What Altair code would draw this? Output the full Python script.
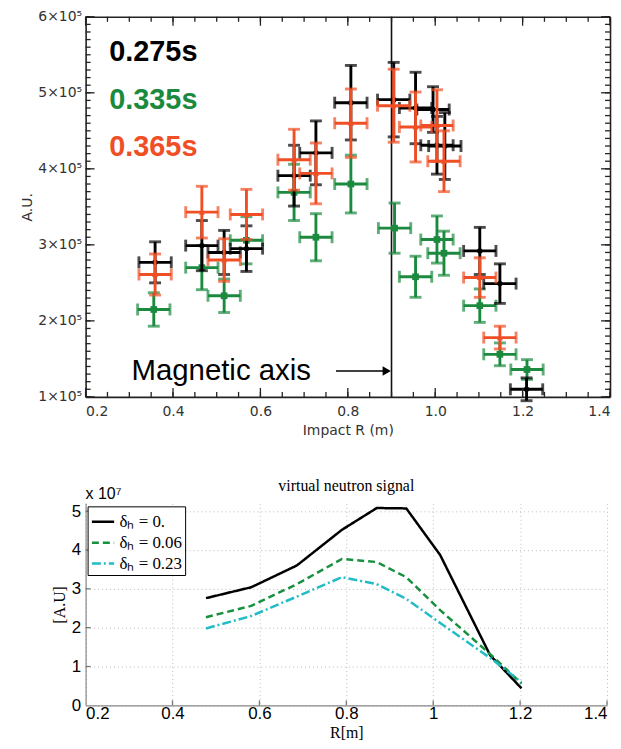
import altair as alt
import pandas as pd

SANS = "DejaVu Sans"
SANS2 = "Liberation Sans"
SERIF = "Liberation Serif"

# ================= top panel: measured profiles (A.U. in units of 1e5) =================
series_names = ["0.275s", "0.335s", "0.365s"]
series_colors = ["#000000", "#1b8a3e", "#f04e25"]
series_shapes = ["circle", "square", "triangle-up"]

r_275 = [0.359, 0.466, 0.517, 0.568, 0.677, 0.727, 0.807, 0.905, 0.955, 0.995, 1.004, 1.022, 1.102, 1.148, 1.209]
v_275 = [2.77, 2.99, 2.90, 2.95, 3.91, 4.21, 4.87, 4.91, 4.80, 4.78, 4.31, 4.30, 2.92, 2.49, 1.10]
e_275 = [0.27, 0.33, 0.29, 0.30, 0.40, 0.42, 0.49, 0.49, 0.47, 0.30, 0.38, 0.44, 0.31, 0.26, 0.15]

r_335 = [0.356, 0.466, 0.517, 0.568, 0.677, 0.727, 0.807, 0.907, 0.955, 1.004, 1.020, 1.102, 1.148, 1.210]
v_335 = [2.15, 2.70, 2.33, 3.06, 3.69, 3.10, 3.80, 3.22, 2.58, 3.07, 2.89, 2.20, 1.56, 1.36]
e_335 = [0.22, 0.29, 0.22, 0.31, 0.37, 0.31, 0.38, 0.33, 0.27, 0.31, 0.29, 0.22, 0.15, 0.13]

r_365 = [0.359, 0.466, 0.517, 0.568, 0.677, 0.727, 0.807, 0.905, 0.955, 1.004, 1.020, 1.102, 1.148]
v_365 = [2.61, 3.43, 2.80, 3.40, 4.12, 3.94, 4.60, 4.83, 4.55, 4.57, 4.10, 2.57, 1.78]
e_365 = [0.27, 0.34, 0.28, 0.33, 0.40, 0.40, 0.45, 0.48, 0.46, 0.47, 0.40, 0.26, 0.15]

r_err = 0.037  # horizontal error (m)

label_x = [0.254, 0.254, 0.254]
label_y = [5.54, 4.91, 4.29]

mag_axis_R = 0.9
mag_text = "Magnetic axis"
mag_text_x = 0.305
mag_text_y = 1.34
arrow_from = 0.773
arrow_to = 0.889

x_dom_t = [0.2, 1.4]
y_dom_t = [1, 6]
x_major_t = [0.2, 0.4, 0.6, 0.8, 1.0, 1.2, 1.4]
x_minor_t = [round(0.2 + 0.05 * i, 2) for i in range(25)]
y_major_t = [1, 2, 3, 4, 5, 6]
y_minor_t = [round(1 + 0.1 * i, 1) for i in range(51)]

# ================= bottom panel: simulated signal (x 1e7) =================
r_sim = [0.477, 0.581, 0.686, 0.790, 0.870, 0.938, 1.016, 1.131, 1.203]
sig_a = [2.76, 3.04, 3.60, 4.52, 5.08, 5.07, 3.87, 1.29, 0.44]
sig_b = [2.27, 2.56, 3.12, 3.77, 3.69, 3.30, 2.45, 1.32, 0.56]
sig_c = [1.98, 2.30, 2.80, 3.30, 3.12, 2.74, 2.12, 1.22, 0.60]
case_labels = ["δₕ = 0.", "δₕ = 0.06", "δₕ = 0.23"]
case_colors = ["#000000", "#17913f", "#22bcc6"]
case_dashes = [[1, 0], [7, 4], [9, 3, 2, 3]]

x_dom_b = [0.2, 1.4]
y_dom_b = [0, 5.2]
x_major_b = [0.2, 0.4, 0.6, 0.8, 1.0, 1.2, 1.4]
y_major_b = [0, 1, 2, 3, 4, 5]
bottom_title = "virtual neutron signal"
exponent_text = "x 10⁷"

TOP_W, TOP_H = 527, 382
BOT_W, BOT_H = 524, 203

xs_t = alt.Scale(domain=x_dom_t, nice=False, zero=False)
ys_t = alt.Scale(domain=y_dom_t, nice=False, zero=False)
xs_b = alt.Scale(domain=x_dom_b, nice=False, zero=False)
ys_b = alt.Scale(domain=y_dom_b, nice=False, zero=False)


def tick_layer(values, edge_value, along, inward, xscale, yscale, size, color, width):
    """Inward tick marks: ticks on a plot edge, shifted by half their length into the plot."""
    half = size / 2.0
    if along == "x":
        df = pd.DataFrame({"R": values, "v": [float(edge_value)] * len(values)})
        return alt.Chart(df).mark_tick(orient="vertical", size=size, thickness=width, color=color,
                                       opacity=1, yOffset=-inward * half).encode(
            x=alt.X("R:Q", scale=xscale, axis=None), y=alt.Y("v:Q", scale=yscale, axis=None))
    df = pd.DataFrame({"v": values, "R": [float(edge_value)] * len(values)})
    return alt.Chart(df).mark_tick(orient="horizontal", size=size, thickness=width, color=color,
                                   opacity=1, xOffset=inward * half).encode(
        x=alt.X("R:Q", scale=xscale, axis=None), y=alt.Y("v:Q", scale=yscale, axis=None))


def axis_layer(df, xf, yf, xscale, yscale, xaxis, yaxis):
    return alt.Chart(df).mark_point(opacity=0).encode(
        x=alt.X(f"{xf}:Q", scale=xscale, axis=xaxis),
        y=alt.Y(f"{yf}:Q", scale=yscale, axis=yaxis),
    )


def err_series(r, v, e, color, shape, size):
    df = pd.DataFrame({"R": r, "v": v, "e": e})
    df["xlo"] = df["R"] - r_err
    df["xhi"] = df["R"] + r_err
    df["ylo"] = df["v"] - df["e"]
    df["yhi"] = df["v"] + df["e"]
    base = alt.Chart(df)

    def X(f):
        return alt.X(f"{f}:Q", scale=xs_t, axis=None)

    def Y(f):
        return alt.Y(f"{f}:Q", scale=ys_t, axis=None)

    lw = 2.9
    cap = 12
    return [
        base.mark_rule(color=color, strokeWidth=lw).encode(x=X("xlo"), x2="xhi:Q", y=Y("v")),
        base.mark_rule(color=color, strokeWidth=lw).encode(x=X("R"), y=Y("ylo"), y2="yhi:Q"),
        base.mark_tick(color=color, orient="vertical", size=cap, thickness=lw).encode(x=X("xlo"), y=Y("v")),
        base.mark_tick(color=color, orient="vertical", size=cap, thickness=lw).encode(x=X("xhi"), y=Y("v")),
        base.mark_tick(color=color, orient="horizontal", size=cap, thickness=lw).encode(x=X("R"), y=Y("ylo")),
        base.mark_tick(color=color, orient="horizontal", size=cap, thickness=lw).encode(x=X("R"), y=Y("yhi")),
        base.mark_point(color=color, fill=color, filled=True, opacity=1, shape=shape, size=size).encode(x=X("R"), y=Y("v")),
    ]


df_any_t = pd.DataFrame({"R": r_275, "v": v_275})

lab_common = dict(labelFont=SANS, labelFontSize=14, labelColor="#333",
                  titleFont=SANS, titleFontSize=14, titleFontWeight="normal", titleColor="#333")

axA = axis_layer(
    df_any_t, "R", "v", xs_t, ys_t,
    alt.Axis(orient="bottom", values=x_major_t, format=".1f", title="Impact R (m)",
             ticks=False, domain=True, domainColor="#222", domainWidth=1.6, grid=False,
             labelPadding=8, titlePadding=5, **lab_common),
    alt.Axis(orient="left", values=y_major_t, labelExpr="format(datum.value, 'd') + '×10⁵'",
             title="A.U.", ticks=False, domain=True, domainColor="#222", domainWidth=1.6, grid=False,
             labelPadding=4, titlePadding=3, **lab_common),
)
# frame lines on top & right edges
axC = axis_layer(
    df_any_t, "R", "v", xs_t, ys_t,
    alt.Axis(orient="bottom", offset=-TOP_H, labels=False, ticks=False, grid=False, title=None,
             domain=True, domainColor="#222", domainWidth=1.6),
    alt.Axis(orient="left", offset=-TOP_W, labels=False, ticks=False, grid=False, title=None,
             domain=True, domainColor="#222", domainWidth=1.6),
)

TK = "#222222"
ticks_top_panel = [
    tick_layer(x_minor_t, y_dom_t[0], "x", +1, xs_t, ys_t, 5, TK, 1.3),
    tick_layer(x_major_t, y_dom_t[0], "x", +1, xs_t, ys_t, 9, TK, 1.3),
    tick_layer(x_minor_t, y_dom_t[1], "x", -1, xs_t, ys_t, 5, TK, 1.3),
    tick_layer(x_major_t, y_dom_t[1], "x", -1, xs_t, ys_t, 9, TK, 1.3),
    tick_layer(y_minor_t, x_dom_t[0], "y", +1, xs_t, ys_t, 5, TK, 1.3),
    tick_layer(y_major_t, x_dom_t[0], "y", +1, xs_t, ys_t, 9, TK, 1.3),
    tick_layer(y_minor_t, x_dom_t[1], "y", -1, xs_t, ys_t, 5, TK, 1.3),
    tick_layer(y_major_t, x_dom_t[1], "y", -1, xs_t, ys_t, 9, TK, 1.3),
]

vline = alt.Chart(pd.DataFrame({"R": [mag_axis_R]})).mark_rule(color="#111", strokeWidth=1.6).encode(
    x=alt.X("R:Q", scale=xs_t, axis=None))

lab_df = pd.DataFrame({"label": series_names, "x": label_x, "y": label_y, "c": series_colors})
labels = alt.Chart(lab_df).mark_text(align="left", baseline="middle", font=SANS2, fontSize=29,
                                     fontWeight="bold").encode(
    x=alt.X("x:Q", scale=xs_t, axis=None), y=alt.Y("y:Q", scale=ys_t, axis=None),
    text="label:N", color=alt.Color("c:N", scale=None, legend=None))

ann_df = pd.DataFrame({"x": [mag_text_x], "y": [mag_text_y], "t": [mag_text],
                       "x0": [arrow_from], "x1": [arrow_to]})
ann_text = alt.Chart(ann_df).mark_text(align="left", baseline="middle", font=SANS2, fontSize=29.5,
                                       color="#000").encode(
    x=alt.X("x:Q", scale=xs_t, axis=None), y=alt.Y("y:Q", scale=ys_t, axis=None), text="t:N")
ann_line = alt.Chart(ann_df).mark_rule(color="#000", strokeWidth=1.6).encode(
    x=alt.X("x0:Q", scale=xs_t, axis=None), x2="x1:Q", y=alt.Y("y:Q", scale=ys_t, axis=None))
ann_head = alt.Chart(ann_df).mark_point(shape="triangle-right", filled=True, color="#000", fill="#000",
                                        opacity=1, size=90).encode(
    x=alt.X("x1:Q", scale=xs_t, axis=None), y=alt.Y("y:Q", scale=ys_t, axis=None))

series_layers = []
for (r, v, e), col, shp, sz in [
    ((r_335, v_335, e_335), series_colors[1], series_shapes[1], 45),
    ((r_275, v_275, e_275), series_colors[0], series_shapes[0], 30),
    ((r_365, v_365, e_365), series_colors[2], series_shapes[2], 35),
]:
    series_layers += err_series(r, v, e, col, shp, sz)

top = alt.layer(
    axA, axC, vline, *series_layers, labels, ann_text, ann_line, ann_head, *ticks_top_panel
).resolve_axis(x="independent", y="independent").properties(width=TOP_W, height=TOP_H)

# ================= bottom chart =================
rows = []
for lab, vals in zip(case_labels, [sig_a, sig_b, sig_c]):
    for r, s in zip(r_sim, vals):
        rows.append({"R": r, "s": s, "case": lab})
df_b = pd.DataFrame(rows)

leg = alt.Legend(orient="none", legendX=2, legendY=3, title=None, fillColor="white",
                 strokeColor="#000", padding=3, labelFont=SERIF, labelFontSize=17,
                 labelColor="#000", symbolType="stroke", symbolSize=500, symbolStrokeWidth=2.5,
                 rowPadding=-3, labelOffset=4)

lines = alt.Chart(df_b).mark_line(strokeWidth=2.5).encode(
    x=alt.X("R:Q", scale=xs_b, axis=None),
    y=alt.Y("s:Q", scale=ys_b, axis=None),
    color=alt.Color("case:N", scale=alt.Scale(domain=case_labels, range=case_colors), legend=leg),
    strokeDash=alt.StrokeDash("case:N", scale=alt.Scale(domain=case_labels, range=case_dashes), legend=leg),
)

df_any_b = pd.DataFrame({"R": r_sim, "s": sig_a})
b_common = dict(labelFont=SANS2, labelFontSize=17, labelColor="#000",
                titleFont=SERIF, titleFontSize=16, titleFontWeight="normal", titleColor="#000",
                ticks=False, domain=True, domainColor="#888", domainWidth=1.2,
                grid=True, gridColor="#bbbbbb", gridDash=[1, 3], gridWidth=1)
bA = axis_layer(
    df_any_b, "R", "s", xs_b, ys_b,
    alt.Axis(orient="bottom", values=x_major_b, format="~g", title="R[m]", labelPadding=0,
             titlePadding=3, **b_common),
    alt.Axis(orient="left", values=y_major_b, format="d", title="[A.U]", labelPadding=5,
             titlePadding=4, **b_common),
)
ticks_bottom_panel = [
    tick_layer(x_major_b[1:], y_dom_b[0], "x", +1, xs_b, ys_b, 5, "#777777", 1.3),
    tick_layer(y_major_b[1:], x_dom_b[0], "y", +1, xs_b, ys_b, 5, "#777777", 1.3),
]

head_df = pd.DataFrame({"x": [x_dom_b[0], (x_dom_b[0] + x_dom_b[1]) / 2],
                        "y": [y_dom_b[1], y_dom_b[1]],
                        "t": [exponent_text, bottom_title]})
exp_text = alt.Chart(head_df.iloc[[0]]).mark_text(align="left", baseline="middle", dy=-9, font=SANS2,
                                                  fontSize=16, color="#000").encode(
    x=alt.X("x:Q", scale=xs_b, axis=None), y=alt.Y("y:Q", scale=ys_b, axis=None), text="t:N")
title_text = alt.Chart(head_df.iloc[[1]]).mark_text(align="center", baseline="middle", dy=-17, font=SERIF,
                                                    fontSize=16, color="#000").encode(
    x=alt.X("x:Q", scale=xs_b, axis=None), y=alt.Y("y:Q", scale=ys_b, axis=None), text="t:N")

bottom = alt.layer(bA, lines, exp_text, title_text, *ticks_bottom_panel).resolve_axis(
    x="independent", y="independent"
).properties(width=BOT_W, height=BOT_H)

chart = alt.vconcat(top, bottom, spacing=41).resolve_legend(
    color="independent", strokeDash="independent"
).configure_view(stroke=None).properties(
    padding={"left": 12, "top": 0, "right": 2, "bottom": 0},
    background="white",
)

chart.save("out.html", embed_options={"renderer": "svg", "actions": False})
